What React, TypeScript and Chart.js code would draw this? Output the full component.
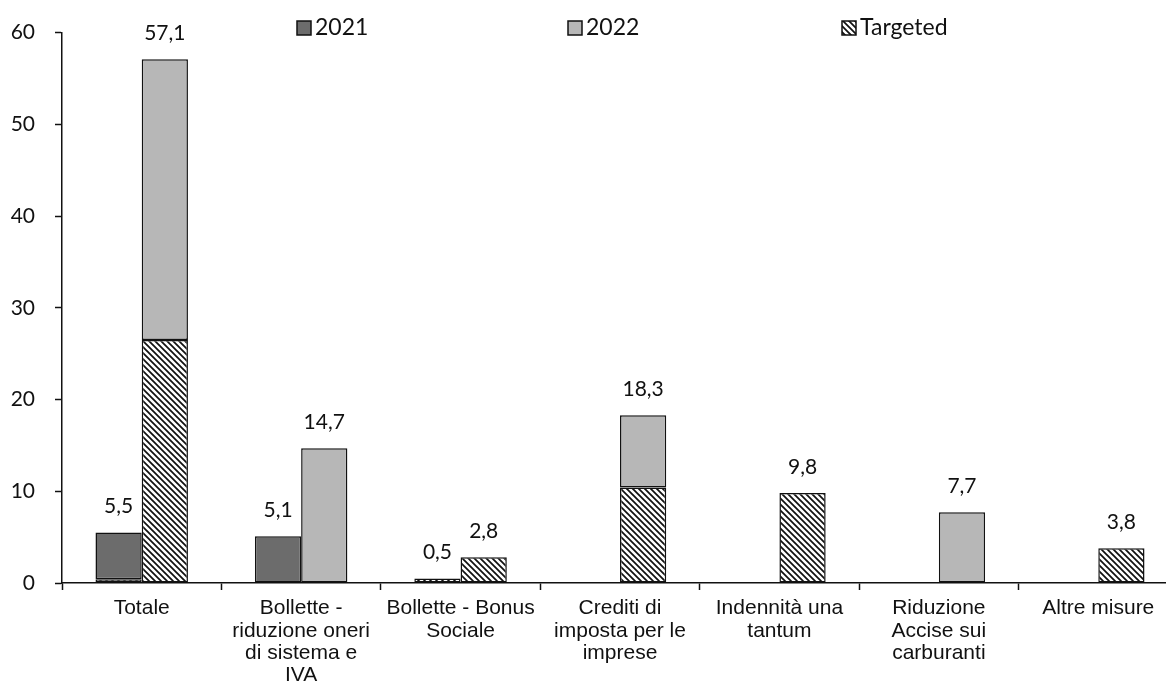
import React, { useEffect, useRef } from "react";
import { Chart, registerables } from "chart.js";

Chart.register(...registerables);

const categories: string[][] = [
  ["Totale"],
  ["Bollette -", "riduzione oneri", "di sistema e", "IVA"],
  ["Bollette - Bonus", "Sociale"],
  ["Crediti di", "imposta per le", "imprese"],
  ["Indennità una", "tantum"],
  ["Riduzione", "Accise sui", "carburanti"],
  ["Altre misure"],
];

// 2021: targeted part and non-targeted part
const targeted2021: (number | null)[] = [0.4, null, 0.5, null, null, null, null];
const other2021: (number | null)[] = [5.1, 5.1, null, null, null, null, null];
// 2022: targeted part and non-targeted part
const targeted2022: (number | null)[] = [26.5, null, 2.8, 10.4, 9.8, null, 3.8];
const other2022: (number | null)[] = [30.6, 14.7, null, 7.9, null, 7.7, null];

const totals2021: (number | null)[] = [5.5, 5.1, 0.5, null, null, null, null];
const totals2022: (number | null)[] = [57.1, 14.7, 2.8, 18.3, 9.8, 7.7, 3.8];

const yTicks = [0, 10, 20, 30, 40, 50, 60];
const legendLabels = ["2021", "2022", "Targeted"];

const COLOR_2021 = "#6c6c6c";
const COLOR_2022 = "#b7b7b7";
const NUM_FONT = "Lato, 'Open Sans', sans-serif";
const CAT_FONT = "'Liberation Sans', Arial, sans-serif";

function makeHatch(): CanvasPattern | string {
  const c = document.createElement("canvas");
  const s = 6;
  c.width = s;
  c.height = s;
  const g = c.getContext("2d");
  if (!g) return "#fff";
  g.fillStyle = "#ffffff";
  g.fillRect(0, 0, s, s);
  g.strokeStyle = "#111";
  g.lineWidth = 1.7;
  g.beginPath();
  g.moveTo(-1, -1);
  g.lineTo(s + 1, s + 1);
  g.moveTo(-1, s - 1);
  g.lineTo(1, s + 1);
  g.moveTo(s - 1, -1);
  g.lineTo(s + 1, 1);
  g.stroke();
  const p = g.createPattern(c, "repeat");
  return p || "#fff";
}

const fmt = (v: number) => v.toFixed(1).replace(".", ",");

export default function App() {
  const ref = useRef<HTMLCanvasElement | null>(null);

  useEffect(() => {
    if (!ref.current) return;
    const hatch = makeHatch();

    const totalsPlugin = {
      id: "totalsLabels",
      afterDatasetsDraw(chart: any) {
        const ctx = chart.ctx;
        ctx.save();
        ctx.fillStyle = "#111";
        ctx.font = `21px ${NUM_FONT}`;
        ctx.textAlign = "center";
        ctx.textBaseline = "middle";
        const groups = [
          { totals: totals2021, ds: [0, 1] },
          { totals: totals2022, ds: [2, 3] },
        ];
        groups.forEach((grp) => {
          grp.totals.forEach((t, i) => {
            if (t == null) return;
            let top = Infinity;
            let x = 0;
            grp.ds.forEach((di) => {
              const el = chart.getDatasetMeta(di).data[i];
              const raw = chart.data.datasets[di].data[i];
              if (el && raw != null && el.y < top) {
                top = el.y;
                x = el.x;
              }
            });
            if (top === Infinity) return;
            ctx.fillText(fmt(t), x, top - 26);
          });
        });
        ctx.restore();
      },
    };

    const legendPlugin = {
      id: "customLegend",
      afterDraw(chart: any) {
        const ctx = chart.ctx;
        const xs = [297, 568, 842];
        const fills: any[] = [COLOR_2021, COLOR_2022, hatch];
        ctx.save();
        ctx.font = `23px ${NUM_FONT}`;
        ctx.textBaseline = "middle";
        ctx.textAlign = "left";
        legendLabels.forEach((lab, k) => {
          const x = xs[k];
          const y = 28;
          ctx.fillStyle = fills[k];
          ctx.fillRect(x, y - 7, 14, 14);
          ctx.strokeStyle = "#111";
          ctx.lineWidth = 1.5;
          ctx.strokeRect(x, y - 7, 14, 14);
          ctx.fillStyle = "#111";
          ctx.fillText(lab, x + 18, y);
        });
        ctx.restore();
      },
    };

    const common = {
      borderColor: "#111",
      borderWidth: 1.5,
      borderSkipped: false,
      categoryPercentage: 0.58,
      barPercentage: 1.0,
    };

    const chart = new Chart(ref.current, {
      type: "bar",
      data: {
        labels: categories,
        datasets: [
          { ...common, label: "Targeted 2021", data: targeted2021, backgroundColor: hatch, stack: "y2021" },
          { ...common, label: "2021", data: other2021, backgroundColor: COLOR_2021, stack: "y2021" },
          { ...common, label: "Targeted 2022", data: targeted2022, backgroundColor: hatch, stack: "y2022" },
          { ...common, label: "2022", data: other2022, backgroundColor: COLOR_2022, stack: "y2022" },
        ] as any,
      },
      options: {
        responsive: false,
        animation: false,
        layout: { padding: { left: 0, right: 2, top: 27, bottom: 0 } },
        plugins: {
          legend: { display: false },
          tooltip: { enabled: false },
          title: { display: false },
        },
        scales: {
          x: {
            stacked: true,
            grid: {
              display: true,
              drawOnChartArea: false,
              drawTicks: true,
              tickLength: 7,
              tickColor: "#111",
              tickWidth: 1.5,
              offset: true,
            },
            border: { display: true, color: "#111", width: 1.5 },
            ticks: {
              color: "#111",
              font: { family: CAT_FONT, size: 21, lineHeight: 1.07 },
              padding: 7,
              maxRotation: 0,
              autoSkip: false,
            },
            afterFit(scale: any) {
              scale.height = 106;
            },
          },
          y: {
            stacked: true,
            min: 0,
            max: 60,
            afterBuildTicks(scale: any) {
              scale.ticks = yTicks.map((v) => ({ value: v }));
            },
            grid: {
              display: true,
              drawOnChartArea: false,
              drawTicks: true,
              tickLength: 7,
              tickColor: "#111",
              tickWidth: 1.5,
            },
            border: { display: true, color: "#111", width: 1.5 },
            ticks: {
              color: "#111",
              font: { family: NUM_FONT, size: 21 },
              padding: 20,
            },
            afterFit(scale: any) {
              scale.width = 62;
            },
          },
        },
      } as any,
      plugins: [totalsPlugin, legendPlugin],
    });

    return () => chart.destroy();
  }, []);

  return (
    <div
      style={{
        position: "fixed",
        left: 0,
        top: 0,
        width: 1166,
        height: 689,
        overflow: "hidden",
        background: "#fff",
      }}
    >
      <canvas ref={ref} width={1180} height={689} style={{ display: "block" }} />
    </div>
  );
}
